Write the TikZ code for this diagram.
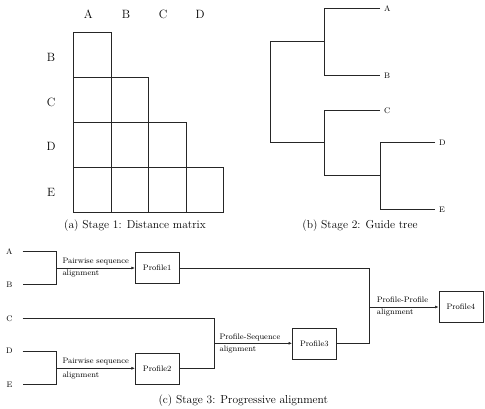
\documentclass[tikz,border=0pt]{standalone}
\usetikzlibrary{arrows.meta}
\begin{document}
\begin{tikzpicture}[x=1pt,y=-1pt,
  ln/.style={line width=0.6pt, draw=black!85},
  arr/.style={ln,-{Latex[length=3.5pt,width=3pt]}},
  box/.style={draw=black!85,line width=0.6pt,minimum width=44pt,minimum height=31pt,inner sep=0,font=\footnotesize},
  lbl/.style={font=\footnotesize,inner sep=0,anchor=mid west},
  leaf/.style={font=\footnotesize,inner xsep=4pt,inner ysep=0,anchor=west},
  seq/.style={font=\footnotesize,inner xsep=10pt,inner ysep=0,anchor=east},
  big/.style={font=\large,inner sep=0},
  captxt/.style={font=\fontsize{11.5}{14}\selectfont,inner sep=0}]
\useasboundingbox (0,0) rectangle (485,409);

% (a) distance matrix
\foreach \r in {0,...,3} {
  \foreach \c in {0,...,\r} {
    \draw[ln] (73.3+37.6*\c, 32.3+45*\r) rectangle ++(37.6,45);
  }
}
\node[big] (colA) at (88.3,14.3) {A};
\node[big] (colB) at (126,14.3) {B};
\node[big] (colC) at (163,14.3) {C};
\node[big] (colD) at (200,14.3) {D};
\node[big] (rowB) at (51,57.7) {B};
\node[big] (rowC) at (51,102.7) {C};
\node[big] (rowD) at (51,146.7) {D};
\node[big] (rowE) at (51,192.3) {E};
\node[captxt] (capa) at (135,226) {(a) Stage 1: Distance matrix};

% (b) guide tree
\node[leaf] (tA) at (380,8.3) {A};
\node[leaf] (tB) at (380,75.3) {B};
\node[leaf] (tC) at (380,110.3) {C};
\node[leaf] (tD) at (435,142.3) {D};
\node[leaf] (tE) at (435,209.3) {E};
\coordinate (ab) at (324,41.7);
\coordinate (cde) at (324,142.3);
\coordinate (de) at (380,175);
\draw[ln] (tA.west) -- (324,8.3) -- (324,75.3) -- (tB.west);
\draw[ln] (ab) -- (270.7,41.7) -- (270.7,142.3) -- (cde);
\draw[ln] (tC.west) -- (324,110.3) -- (324,175) -- (de);
\draw[ln] (tD.west) -- (380,142.3) -- (380,209.3) -- (tE.west);
\node[captxt] (capb) at (360,226) {(b) Stage 2: Guide tree};

% (c) progressive alignment
\node[seq] (sA) at (22.7,251.7) {A};
\node[seq] (sB) at (22.7,284.7) {B};
\node[seq] (sC) at (22.7,318.3) {C};
\node[seq] (sD) at (22.7,351) {D};
\node[seq] (sE) at (22.7,384.7) {E};
\node[box] (P1) at (157.2,268) {Profile1};
\node[box] (P2) at (157.2,368.3) {Profile2};
\node[box] (P3) at (314.3,343.3) {Profile3};
\node[box] (P4) at (460.8,307) {Profile4};
\coordinate (jab) at (56.7,268);
\coordinate (jde) at (56.7,368.3);
\coordinate (jc) at (214.3,343.3);
\coordinate (jp) at (369.3,307);
\draw[ln] (sA.east) -- (56.7,251.7) -- (56.7,284.7) -- (sB.east);
\draw[arr] (jab) -- (P1.west);
\draw[ln] (sD.east) -- (56.7,351) -- (56.7,384.7) -- (sE.east);
\draw[arr] (jde) -- (P2.west);
\draw[ln] (sC.east) -- (214.3,318.3) -- (214.3,368.3) -- (P2.east);
\draw[arr] (jc) -- (P3.west);
\draw[ln] (P1.east) -- (369.3,268) -- (369.3,343.3) -- (P3.east);
\draw[arr] (jp) -- (P4.west);
\node[lbl] (l1a) at (62.3,261.7) {Pairwise sequence};
\node[lbl] (l1b) at (62.3,273.3) {alignment};
\node[lbl] (l2a) at (62.3,361.7) {Pairwise sequence};
\node[lbl] (l2b) at (62.3,375) {alignment};
\node[lbl] (l3a) at (219.3,337.7) {Profile-Sequence};
\node[lbl] (l3b) at (219.3,349.3) {alignment};
\node[lbl] (l4a) at (376.7,300.3) {Profile-Profile};
\node[lbl] (l4b) at (376.7,312.7) {alignment};
\node[captxt] (capc) at (243.3,400.5) {(c) Stage 3: Progressive alignment};
\end{tikzpicture}
\end{document}
